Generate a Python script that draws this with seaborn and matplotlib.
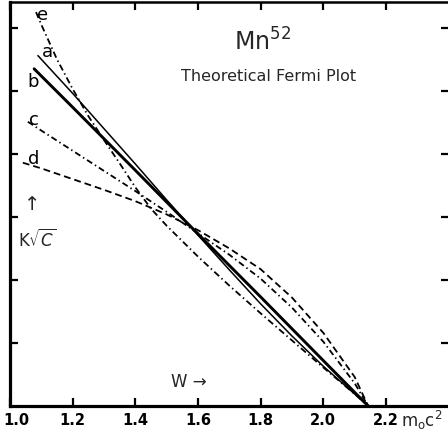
import matplotlib
matplotlib.use("Agg")
import matplotlib.pyplot as plt
import matplotlib.transforms as mtransforms
import seaborn as sns
import pandas as pd

# ---- data (W in m0c^2, K*sqrt(C) in arbitrary units) ----
a_x = [1.089, 1.2, 1.3, 1.4, 1.5, 1.6, 1.7, 1.8, 1.9, 2.0, 2.1, 2.143]
a_y = [5.56, 4.96, 4.40, 3.84, 3.27, 2.71, 2.16, 1.62, 1.11, 0.63, 0.19, 0.0]

b_x = [1.077, 1.2, 1.4, 1.6, 1.8, 2.0, 2.143]
b_y = [5.35, 4.74, 3.74, 2.73, 1.73, 0.72, 0.0]

c_x = [1.057, 1.1, 1.2, 1.3, 1.4, 1.5, 1.6, 1.7, 1.8, 1.9, 2.0, 2.1, 2.143]
c_y = [4.51, 4.37, 4.05, 3.73, 3.41, 3.08, 2.74, 2.40, 2.02, 1.56, 1.02, 0.36, 0.0]

d_x = [1.041, 1.1, 1.2, 1.3, 1.4, 1.5, 1.6, 1.7, 1.8, 1.9, 2.0, 2.1, 2.143]
d_y = [3.86, 3.77, 3.60, 3.43, 3.25, 3.04, 2.79, 2.50, 2.17, 1.72, 1.16, 0.46, 0.0]

e_x = [1.083, 1.1, 1.15, 1.2, 1.25, 1.3, 1.35, 1.4, 1.45, 1.5, 1.6, 1.7, 1.8, 1.9, 2.0, 2.1, 2.143]
e_y = [6.25, 6.05, 5.50, 5.03, 4.60, 4.22, 3.85, 3.47, 3.13, 2.86, 2.37, 1.91, 1.47, 1.04, 0.61, 0.19, 0.0]

curve_labels = ["a", "b", "c", "d", "e"]
label_x = [1.121, 1.073, 1.077, 1.077, 1.105]
label_y = [5.64, 5.16, 4.56, 3.94, 6.22]

x_ticks = [1.0, 1.2, 1.4, 1.6, 1.8, 2.0, 2.2]
x_tick_labels = ["1.0", "1.2", "1.4", "1.6", "1.8", "2.0", "2.2"]
y_ticks = [1, 2, 3, 4, 5, 6]

title_main = r"Mn$^{52}$"
title_sub = "Theoretical Fermi Plot"

# ---- figure ----
sns.set_theme(style="white")
plt.rcParams["font.family"] = ["DejaVu Sans"]

fig = plt.figure(figsize=(4.48, 4.39), dpi=100)
ax = fig.add_axes([10 / 448, 1 - 407 / 439, 439 / 448, 404 / 439])
ax.set_facecolor("white")

styles = {
    "a": dict(lw=1.1, linestyle="-"),
    "b": dict(lw=2.1, linestyle="-"),
    "c": dict(lw=1.3, linestyle=(0, (3.4, 1.8, 0.8, 1.8))),
    "d": dict(lw=1.3, linestyle=(0, (3.8, 2.2))),
    "e": dict(lw=1.3, linestyle=(0, (3.6, 1.8, 0.8, 1.8))),
}
data = {"a": (a_x, a_y), "b": (b_x, b_y), "c": (c_x, c_y), "d": (d_x, d_y), "e": (e_x, e_y)}
for name in curve_labels:
    xs, ys = data[name]
    df = pd.DataFrame({"W": xs, "K": ys})
    sns.lineplot(data=df, x="W", y="K", ax=ax, color="black", sort=False,
                 estimator=None, **styles[name])

for lab, lx, ly in zip(curve_labels, label_x, label_y):
    ax.text(lx, ly, lab, fontsize=13, ha="center", va="center", color="black")

ax.set_xlim(1.0, 2.401)
ax.set_ylim(0, 6.41)
ax.set_xticks(x_ticks)
ax.set_xticklabels(x_tick_labels)
ax.set_yticks(y_ticks)
ax.set_yticklabels([])
ax.set_xlabel("")
ax.set_ylabel("")

ax.tick_params(axis="x", which="both", direction="in", length=5.5, width=1.6,
               top=True, bottom=True, labelsize=10.5, pad=4, colors="black")
ax.tick_params(axis="y", which="both", direction="in", length=5.5, width=1.6,
               left=True, right=True, labelleft=False, colors="black")
for lab in ax.get_xticklabels():
    lab.set_fontweight("bold")
# nudge the first tick label right so it stays inside the figure
first = ax.get_xticklabels()[0]
first.set_transform(first.get_transform() + mtransforms.ScaledTranslation(6 / 100, 0, fig.dpi_scale_trans))

for side in ["left", "bottom"]:
    ax.spines[side].set_linewidth(2.3)
    ax.spines[side].set_color("black")
ax.spines["top"].set_linewidth(1.8)
ax.spines["top"].set_color("black")
ax.spines["right"].set_visible(False)

# titles and annotations
fig.text(262 / 448, 1 - 42 / 439, title_main, fontsize=17, ha="center", va="center")
fig.text(269 / 448, 1 - 77 / 439, title_sub, fontsize=11.5, ha="center", va="center")
fig.text(189 / 448, 1 - 382 / 439, "W \u2192", fontsize=12, ha="center", va="center")
fig.text(32 / 448, 1 - 205 / 439, "\u2191", fontsize=14, ha="center", va="center")
fig.text(37 / 448, 1 - 240 / 439, r"K$\sqrt{C}$", fontsize=12, ha="center", va="center")
fig.text(422 / 448, 1 - 420 / 439, r"$\mathrm{m_oc^2}$", fontsize=12, ha="center", va="center")

fig.savefig("out.png", dpi=100, facecolor="white")
